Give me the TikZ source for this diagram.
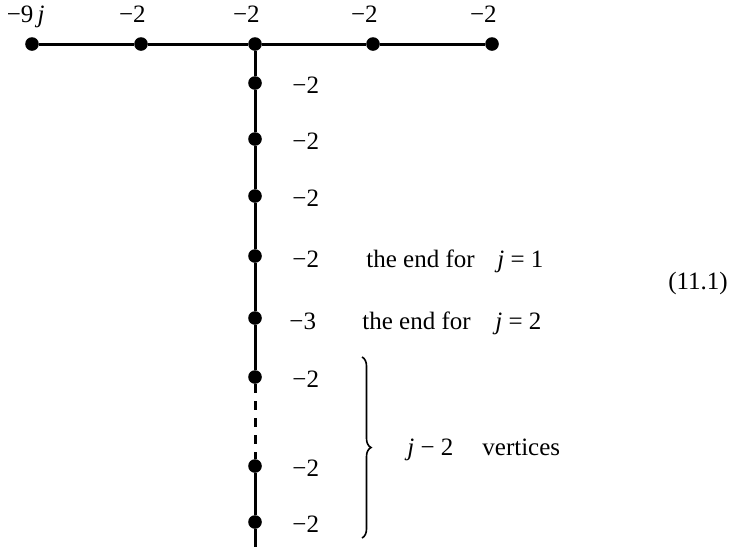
\documentclass[tikz,border=0pt]{standalone}
\usepackage{fontspec}
\setmainfont{Liberation Serif}
\usetikzlibrary{decorations.pathreplacing}

\begin{document}
\begin{tikzpicture}[
  x=0.5pt, y=-0.5pt,
  vdot/.style={circle, fill=black, inner sep=0pt, minimum size=6.8pt},
  wt/.style={inner sep=0pt, font=\fontsize{12.5}{15}\selectfont},
  edge/.style={draw=black, line width=1.5pt},
]
\useasboundingbox (0,0) rectangle (739,547);

% ── Top row ────────────────────────────────────────────────────────────
\node[vdot] (h1) at (32,  44) {};
\node[vdot] (h2) at (141, 44) {};
\node[vdot] (h3) at (255, 44) {};
\node[vdot] (h4) at (373, 44) {};
\node[vdot] (h5) at (492, 44) {};

\node[wt, anchor=base east] (lh1) at (45,  22) {−9\,\textit{j}};
\node[wt, anchor=base east] (lh2) at (146, 22) {−2};
\node[wt, anchor=base east] (lh3) at (260, 22) {−2};
\node[wt, anchor=base east] (lh4) at (378, 22) {−2};
\node[wt, anchor=base east] (lh5) at (497, 22) {−2};

\draw[edge] (h1) -- (h2) -- (h3) -- (h4) -- (h5);

% ── Vertical chain ─────────────────────────────────────────────────────
\node[vdot] (v1) at (255, 83)  {};
\node[vdot] (v2) at (255, 139) {};
\node[vdot] (v3) at (255, 196) {};
\node[vdot] (v4) at (255, 256) {};
\node[vdot] (v5) at (255, 318) {};
\node[vdot] (v6) at (255, 377) {};
\node[vdot] (v7) at (255, 466) {};
\node[vdot] (v8) at (255, 522) {};
\coordinate (vend) at (255, 547);

\node[wt, anchor=base west] (lv1) at (292, 93)  {−2};
\node[wt, anchor=base west] (lv2) at (292, 149) {−2};
\node[wt, anchor=base west] (lv3) at (292, 206) {−2};
\node[wt, anchor=base west] (lv4) at (292, 267) {−2};
\node[wt, anchor=base west] (lv5) at (289, 329) {−3};
\node[wt, anchor=base west] (lv6) at (292, 387) {−2};
\node[wt, anchor=base west] (lv7) at (292, 476) {−2};
\node[wt, anchor=base west] (lv8) at (292, 532) {−2};

\draw[edge] (h3) -- (v1) -- (v2) -- (v3) -- (v4) -- (v5) -- (v6);
\draw[edge, dash pattern=on 4.5pt off 4pt] (v6) -- (v7);
\draw[edge] (v7) -- (v8) -- (vend);

% ── Remarks ────────────────────────────────────────────────────────────
\node[wt, anchor=base west] (e1) at (366, 267) {the end for};
\node[wt, anchor=base west] (j1) at (497, 267) {\textit{j} = 1};
\node[wt, anchor=base west] (e2) at (362, 329) {the end for};
\node[wt, anchor=base west] (j2) at (495, 329) {\textit{j} = 2};

\coordinate (btop) at (362, 357);
\coordinate (bbot) at (362, 538);
\draw[line width=0.8pt, decorate, decoration={brace, amplitude=4.5pt}]
  (btop) -- (bbot);

\node[wt, anchor=base west] (jm) at (407, 455) {\textit{j} − 2};
\node[wt, anchor=base west] (vx) at (482, 455) {vertices};

% ── Equation number ────────────────────────────────────────────────────
\node[wt] (eqn) at (698, 283) {(11.1)};

\end{tikzpicture}
\end{document}
